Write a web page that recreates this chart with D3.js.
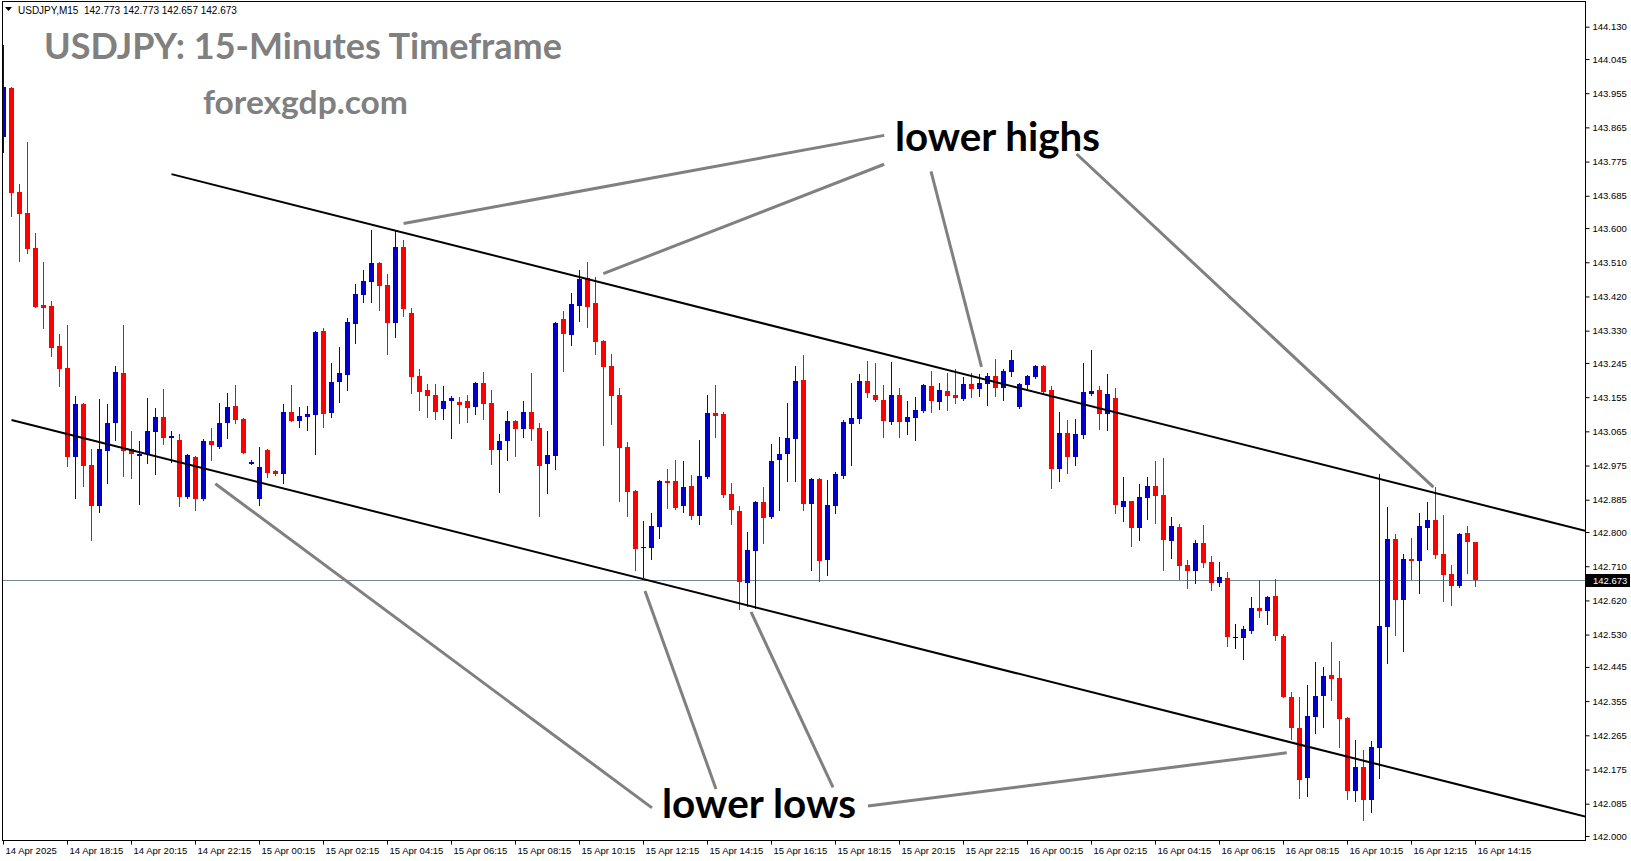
<!DOCTYPE html>
<html><head><meta charset="utf-8">
<script src="https://cdn.jsdelivr.net/npm/d3@7"></script>
<style>
html,body{margin:0;padding:0;background:#fff;overflow:hidden;}
svg{display:block;}
</style></head>
<body>
<svg id="chart" width="1631" height="861"></svg>
<script>
// ---- data (USDJPY M15, bar 0 = 14 Apr 2025 16:15) ----
const open = [143.840,143.968,143.695,143.639,143.547,143.397,143.395,143.289,143.231,142.998,
143.137,142.976,142.868,143.013,143.088,143.218,143.018,143.000,143.005,143.064,
143.102,143.048,143.042,142.893,142.997,142.887,143.039,143.024,143.088,143.131,
143.097,142.980,142.887,143.016,142.960,142.953,143.116,143.093,143.103,143.109,
143.329,143.114,143.195,143.214,143.347,143.424,143.458,143.508,143.450,143.351,
143.551,143.376,143.210,143.174,143.160,143.124,143.145,143.142,143.145,143.129,
143.192,143.139,143.016,143.039,143.092,143.071,143.116,143.074,142.979,143.000,
143.360,143.318,143.395,143.468,143.403,143.303,143.237,143.160,143.024,142.908,
142.758,142.758,142.813,142.934,142.934,142.868,142.921,142.842,142.945,143.113,
143.110,142.900,142.855,142.666,142.750,142.879,142.839,142.989,143.005,143.045,
143.200,142.873,142.939,142.726,142.869,142.947,143.084,143.097,143.197,143.160,
143.147,143.089,143.160,143.089,143.100,143.118,143.184,143.142,143.171,143.160,
143.150,143.189,143.176,143.189,143.210,143.179,143.221,143.129,143.187,143.208,
143.237,143.174,142.966,143.061,142.997,143.055,143.163,143.174,143.110,143.152,
142.866,142.881,142.810,142.889,142.921,142.897,142.776,142.813,142.713,142.697,
142.771,142.721,142.666,142.680,142.523,142.522,142.540,142.600,142.593,142.632,
142.527,142.366,142.285,142.153,142.314,142.368,142.423,142.416,142.311,142.118,
142.182,142.095,142.232,142.551,142.781,142.622,142.729,142.724,142.810,142.832,
142.742,142.689,142.658,142.797,142.773];
const high = [144.082,143.970,143.716,143.826,143.586,143.510,143.408,143.320,143.344,143.158,
143.139,143.018,143.150,143.137,143.237,143.344,143.066,143.039,143.152,143.126,
143.176,143.066,143.058,143.005,142.999,143.045,143.074,143.140,143.166,143.187,
143.100,142.989,143.024,143.018,142.964,143.137,143.187,143.129,143.131,143.330,
143.337,143.245,143.287,143.363,143.453,143.489,143.595,143.510,143.479,143.592,
143.569,143.389,143.229,143.189,143.189,143.184,143.158,143.155,143.160,143.195,
143.221,143.174,143.058,143.118,143.095,143.145,143.218,143.087,143.066,143.352,
143.381,143.429,143.489,143.510,143.471,143.305,143.268,143.179,143.037,142.910,
142.829,142.850,142.937,142.966,142.989,142.987,142.950,143.042,143.160,143.187,
143.116,142.929,142.868,142.800,142.881,142.918,143.031,143.050,143.139,143.237,
143.266,142.941,142.941,142.937,142.958,143.095,143.192,143.216,143.250,143.245,
143.187,143.247,143.179,143.145,143.155,143.189,143.224,143.192,143.218,143.229,
143.208,143.218,143.216,143.218,143.255,143.229,143.279,143.192,143.213,143.239,
143.239,143.184,143.116,143.095,143.097,143.245,143.279,143.184,143.216,143.179,
142.945,142.883,142.926,142.945,142.987,142.995,142.839,142.821,142.726,142.779,
142.818,142.737,142.721,142.695,142.558,142.553,142.630,142.674,142.632,142.677,
142.531,142.379,142.365,142.397,142.458,142.445,142.510,142.460,142.313,142.253,
142.226,142.250,142.952,142.866,142.795,142.742,142.784,142.850,142.879,142.918,
142.845,142.713,142.797,142.816,142.773];
const low = [143.801,143.632,143.513,143.535,143.393,143.338,143.264,143.185,142.974,142.890,
142.921,142.779,142.853,142.930,143.042,142.947,142.943,142.873,142.982,142.953,
143.031,142.985,142.868,142.890,142.858,142.884,142.989,143.022,143.047,143.087,
143.007,142.979,142.872,142.945,142.950,142.930,143.091,143.077,143.068,143.006,
143.076,143.103,143.142,143.174,143.297,143.405,143.405,143.384,143.268,143.314,
143.369,143.166,143.121,143.102,143.097,143.097,143.047,143.087,143.089,143.110,
143.097,142.979,142.905,142.989,143.000,143.050,143.042,142.842,142.902,142.966,
143.224,143.292,143.355,143.339,143.268,143.029,143.084,142.881,142.842,142.700,
142.681,142.729,142.784,142.863,142.861,142.852,142.834,142.821,142.943,143.050,
142.892,142.821,142.597,142.605,142.600,142.771,142.837,142.858,142.934,142.934,
142.858,142.700,142.672,142.687,142.851,142.942,142.976,143.087,143.155,143.145,
143.050,143.084,143.050,143.058,143.042,143.116,143.116,143.124,143.121,143.139,
143.148,143.155,143.158,143.134,143.158,143.147,143.210,143.126,143.179,143.205,
143.166,142.916,142.934,142.955,142.976,143.047,143.160,143.071,143.068,142.850,
142.829,142.763,142.779,142.834,142.824,142.700,142.731,142.676,142.652,142.666,
142.708,142.648,142.658,142.501,142.495,142.466,142.535,142.577,142.558,142.516,
142.365,142.254,142.101,142.106,142.272,142.287,142.358,142.235,142.098,142.093,
142.043,142.064,142.153,142.456,142.530,142.487,142.677,142.640,142.755,142.732,
142.619,142.609,142.656,142.693,142.657];
const close = [143.972,143.693,143.637,143.545,143.393,143.390,143.285,143.229,142.998,143.137,
142.974,142.868,143.018,143.088,143.221,143.013,143.005,143.005,143.066,143.102,
143.048,143.052,142.893,143.002,142.887,143.040,143.028,143.088,143.129,143.096,
143.009,142.984,142.971,142.956,142.953,143.116,143.093,143.105,143.110,143.326,
143.110,143.195,143.218,143.353,143.426,143.460,143.508,143.447,143.350,143.551,
143.388,143.208,143.168,143.158,143.116,143.145,143.152,143.134,143.126,143.192,
143.137,143.016,143.039,143.092,143.071,143.116,143.071,142.974,143.002,143.350,
143.321,143.400,143.466,143.392,143.300,143.235,143.159,143.022,142.905,142.756,
142.760,142.816,142.934,142.929,142.863,142.918,142.842,142.947,143.113,143.105,
142.897,142.858,142.668,142.752,142.879,142.837,142.987,143.005,143.047,143.197,
142.873,142.939,142.723,142.871,142.952,143.089,143.100,143.197,143.166,143.147,
143.092,143.160,143.089,143.102,143.121,143.187,143.145,143.174,143.158,143.152,
143.189,143.176,143.192,143.210,143.179,143.224,143.253,143.189,143.210,143.237,
143.168,142.966,143.061,142.997,143.058,143.168,143.171,143.110,143.163,142.871,
142.881,142.810,142.892,142.921,142.895,142.779,142.816,142.710,142.697,142.771,
142.719,142.666,142.681,142.524,142.523,142.545,142.600,142.593,142.630,142.527,
142.367,142.285,142.148,142.316,142.368,142.421,142.413,142.308,142.118,142.182,
142.095,142.234,142.552,142.781,142.622,142.729,142.724,142.816,142.832,142.740,
142.688,142.658,142.795,142.774,142.673];

const tickBars = [0,8,16,24,32,40,48,56,64,72,80,88,96,104,112,120,128,136,144,152,160,168,176,184];
const timeLabels = ["14 Apr 2025","14 Apr 18:15","14 Apr 20:15","14 Apr 22:15","15 Apr 00:15","15 Apr 02:15",
"15 Apr 04:15","15 Apr 06:15","15 Apr 08:15","15 Apr 10:15","15 Apr 12:15","15 Apr 14:15","15 Apr 16:15",
"15 Apr 18:15","15 Apr 20:15","15 Apr 22:15","16 Apr 00:15","16 Apr 02:15","16 Apr 04:15","16 Apr 06:15",
"16 Apr 08:15","16 Apr 10:15","16 Apr 12:15","16 Apr 14:15"];
const priceTicks = [144.130,144.045,143.955,143.865,143.775,143.685,143.600,143.510,143.420,143.330,143.245,
143.155,143.065,142.975,142.885,142.800,142.710,142.620,142.530,142.445,142.355,142.265,142.175,142.085,142.000];
const currentPrice = 142.673;
const upperTrend = [[21,143.742],[184,142.876]];
const lowerTrend = [[1,143.095],[184,142.124]];
const pointerLines = [
  [[50.01,143.612],[110.09,143.844]],
  [[74.98,143.480],[110.09,143.768]],
  [[115.94,143.749],[122.25,143.235]],
  [[134.14,143.795],[178.74,142.918]],
  [[26.48,142.927],[81.06,142.074]],
  [[80.19,142.645],[89.06,142.124]],
  [[93.44,142.590],[103.69,142.128]],
  [[108.06,142.079],[160.4,142.219]]
];
const headerText = "USDJPY,M15  142.773 142.773 142.657 142.673";

// ---- layout ----
const plot = {left:2, top:1, right:1585, bottom:840};
const x = d3.scaleLinear().domain([0,184]).range([3.5,1475.5]);
const y = d3.scaleLinear().domain([142.000,144.130]).range([836,26.7]);
const svg = d3.select("#chart");
svg.append("rect").attr("width",1631).attr("height",861).attr("fill","#fff");

svg.append("defs").append("clipPath").attr("id","clip")
  .append("rect").attr("x",plot.left+1).attr("y",plot.top+1)
  .attr("width",plot.right-plot.left-1).attr("height",plot.bottom-plot.top-1);
const g = svg.append("g").attr("clip-path","url(#clip)");

// bid line
g.append("line").attr("x1",plot.left).attr("x2",plot.right)
  .attr("y1",Math.round(y(currentPrice))+0.5).attr("y2",Math.round(y(currentPrice))+0.5)
  .attr("stroke","#778899").attr("stroke-width",1);

const idx = d3.range(open.length);
const col = i => close[i] > open[i] ? "#0000CD" : (close[i] < open[i] ? "#FF0000" : "#000000");
// wicks
g.selectAll("rect.wick").data(idx).join("rect").attr("class","wick")
  .attr("x",i=>x(i)-0.5).attr("width",1)
  .attr("y",i=>Math.round(y(high[i])))
  .attr("height",i=>Math.max(1,Math.round(y(low[i]))-Math.round(y(high[i]))+1))
  .attr("fill",col);
// bodies
g.selectAll("rect.body").data(idx).join("rect").attr("class","body")
  .attr("x",i=>x(i)-2.5).attr("width",5)
  .attr("y",i=>Math.round(y(Math.max(open[i],close[i]))))
  .attr("height",i=>Math.max(1,Math.round(y(Math.min(open[i],close[i])))-Math.round(y(Math.max(open[i],close[i])))))
  .attr("fill",col);

// trend lines (rays extended to the right)
function ray(pts){
  const [[b1,p1],[b2,p2]] = pts;
  const slope = (p2-p1)/(b2-b1);
  const bEnd = 200;
  return [[x(b1),y(p1)],[x(bEnd),y(p1+slope*(bEnd-b1))]];
}
[upperTrend,lowerTrend].forEach(t=>{
  const [[x1,y1],[x2,y2]] = ray(t);
  g.append("line").attr("x1",x1).attr("y1",y1).attr("x2",x2).attr("y2",y2)
    .attr("stroke","#000").attr("stroke-width",2);
});

// pointer lines
g.selectAll("line.ptr").data(pointerLines).join("line").attr("class","ptr")
  .attr("x1",d=>x(d[0][0])).attr("y1",d=>y(d[0][1]))
  .attr("x2",d=>x(d[1][0])).attr("y2",d=>y(d[1][1]))
  .attr("stroke","#808080").attr("stroke-width",3);

// frame
svg.append("rect").attr("x",plot.left+0.5).attr("y",plot.top+0.5)
  .attr("width",plot.right-plot.left).attr("height",plot.bottom-plot.top)
  .attr("fill","none").attr("stroke","#000").attr("stroke-width",1);

// axes
const axFont = "'Liberation Sans', Arial, sans-serif";
const yAx = svg.append("g").attr("transform",`translate(${plot.right+0.5},0)`)
  .call(d3.axisRight(y).tickValues(priceTicks).tickFormat(d3.format(".3f")).tickSize(4).tickPadding(3));
yAx.select(".domain").remove();
yAx.selectAll("text").attr("font-family",axFont).attr("font-size","9.5px").attr("fill","#000");
yAx.selectAll("line").attr("stroke","#000");

const xAx = svg.append("g").attr("transform",`translate(0,${plot.bottom+0.5})`)
  .call(d3.axisBottom(x).tickValues(tickBars).tickFormat((d,i)=>timeLabels[i]).tickSize(4).tickPadding(3).offset(0));
xAx.select(".domain").remove();
xAx.selectAll("text").attr("font-family",axFont).attr("font-size","9.5px").attr("fill","#000")
  .attr("text-anchor","start").attr("dx","2");
xAx.selectAll("line").attr("stroke","#000");

// current price label
const cy = y(currentPrice);
svg.append("rect").attr("x",plot.right+1).attr("y",Math.round(cy)-6).attr("width",44).attr("height",13).attr("fill","#000");
svg.append("text").attr("x",plot.right+8).attr("y",cy).attr("dy","0.35em")
  .attr("font-family",axFont).attr("font-size","9.5px").attr("fill","#fff").text(d3.format(".3f")(currentPrice));

// header
svg.append("path").attr("d","M5,7 L12,7 L8.5,11 Z").attr("fill","#000");
svg.append("text").attr("x",18).attr("y",14).attr("font-family",axFont).attr("font-size","10px")
  .attr("fill","#000").attr("xml:space","preserve").style("white-space","pre").text(headerText);

// titles & annotations
const tf = "Lato, 'Open Sans', sans-serif";
svg.append("text").attr("x",44).attr("y",59).attr("font-family",tf).attr("font-weight","bold")
  .attr("font-size","36px").attr("fill","#808080").attr("textLength",518).attr("lengthAdjust","spacingAndGlyphs")
  .text("USDJPY: 15-Minutes Timeframe");
svg.append("text").attr("x",203).attr("y",114).attr("font-family",tf).attr("font-weight","bold")
  .attr("font-size","32px").attr("fill","#808080").attr("textLength",205).attr("lengthAdjust","spacingAndGlyphs")
  .text("forexgdp.com");
svg.append("text").attr("x",895).attr("y",151).attr("font-family",tf).attr("font-weight","bold")
  .attr("font-size","40px").attr("fill","#000").attr("textLength",205).attr("lengthAdjust","spacingAndGlyphs")
  .text("lower highs");
svg.append("text").attr("x",662).attr("y",818).attr("font-family",tf).attr("font-weight","bold")
  .attr("font-size","40px").attr("fill","#000").attr("textLength",194).attr("lengthAdjust","spacingAndGlyphs")
  .text("lower lows");
</script>
</body></html>
